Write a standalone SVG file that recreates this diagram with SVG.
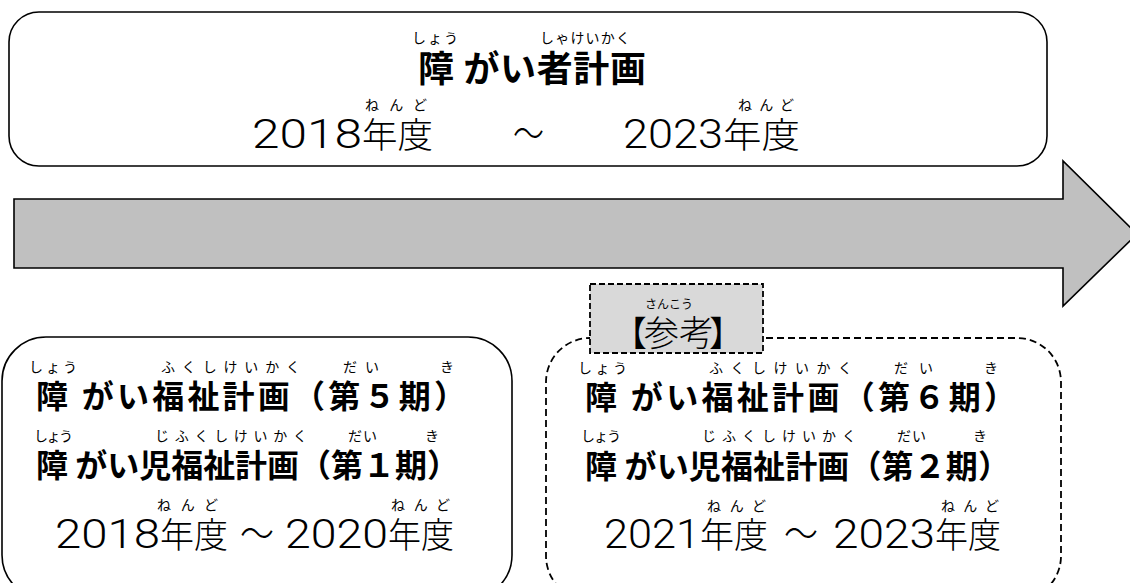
<svg xmlns="http://www.w3.org/2000/svg" width="1130" height="583" viewBox="0 0 1130 583">
<style>
.box{fill:#fff;stroke:#000;stroke-width:1.6}
.dash{fill:#fff;stroke:#000;stroke-width:1.8;stroke-dasharray:7 4}
.ref{fill:#d9d9d9;stroke:#000;stroke-width:1.8;stroke-dasharray:6 3}
.arrow{fill:#c0c0c0;stroke:#000;stroke-width:1.6;stroke-linejoin:miter}
text{font-family:"Noto Sans CJK JP",sans-serif;fill:#000}
.rb{font-size:14px}
.h{font-size:32px;font-weight:bold}
.t{font-size:36px;font-weight:bold}
.num{font-family:Roboto,"Liberation Sans","Noto Sans CJK JP",sans-serif;font-size:40px;font-weight:300}
.kj{font-size:35px;font-weight:300}
.sk{font-size:35px;font-weight:300}
</style>
<rect width="1130" height="583" fill="#fff"/>

<g id="connectors">
<polygon class="arrow" points="14,199 1063,199 1063,161 1137,234 1063,306 1063,268 14,268"/>
</g>

<g id="node-plan">
<rect class="box" x="9" y="12" width="1038" height="154" rx="30"/>
<text class="rb" x="412" y="43" textLength="46" lengthAdjust="spacing">しょう</text>
<text class="rb" x="540" y="43" textLength="90" lengthAdjust="spacing">しゃけいかく</text>
<text class="t" x="418" y="82" textLength="228" lengthAdjust="spacing">障 がい者計画</text>
<text class="rb" x="365" y="110" textLength="62" lengthAdjust="spacing">ねんど</text>
<text class="rb" x="738" y="110" textLength="56" lengthAdjust="spacing">ねんど</text>
<text class="num" x="252" y="148" textLength="110" lengthAdjust="spacingAndGlyphs">2018</text>
<text class="kj" x="362" y="148" textLength="71" lengthAdjust="spacingAndGlyphs">年度</text>
<text class="num" x="513" y="148" textLength="31" lengthAdjust="spacingAndGlyphs">～</text>
<text class="num" x="623" y="148" textLength="100" lengthAdjust="spacingAndGlyphs">2023</text>
<text class="kj" x="723" y="148" textLength="77" lengthAdjust="spacingAndGlyphs">年度</text>
</g>

<g id="node-phase5">
<rect class="box" x="2" y="337" width="510" height="262" rx="44"/>
<text class="rb" x="29" y="372" textLength="48" lengthAdjust="spacing">しょう</text>
<text class="rb" x="161" y="372" textLength="139" lengthAdjust="spacing">ふくしけいかく</text>
<text class="rb" x="343" y="372" textLength="36" lengthAdjust="spacing">だい</text>
<text class="rb" x="440" y="372">き</text>
<text class="h" x="36" y="408" textLength="430" lengthAdjust="spacing">障 がい福祉計画（第５期）</text>
<text class="rb" x="34" y="441" textLength="39" lengthAdjust="spacing">しょう</text>
<text class="rb" x="155" y="441" textLength="152" lengthAdjust="spacing">じふくしけいかく</text>
<text class="rb" x="348" y="441" textLength="29" lengthAdjust="spacing">だい</text>
<text class="rb" x="425" y="441">き</text>
<text class="h" x="36" y="477" textLength="423" lengthAdjust="spacing">障 がい児福祉計画（第１期）</text>
<text class="rb" x="157" y="510" textLength="61" lengthAdjust="spacing">ねんど</text>
<text class="rb" x="391" y="510" textLength="59" lengthAdjust="spacing">ねんど</text>
<text class="num" x="55" y="548" textLength="105" lengthAdjust="spacingAndGlyphs">2018</text>
<text class="kj" x="160" y="548" textLength="68" lengthAdjust="spacingAndGlyphs">年度</text>
<text class="num" x="240" y="548" textLength="34" lengthAdjust="spacingAndGlyphs">～</text>
<text class="num" x="285" y="548" textLength="103" lengthAdjust="spacingAndGlyphs">2020</text>
<text class="kj" x="388" y="548" textLength="66" lengthAdjust="spacingAndGlyphs">年度</text>
</g>

<g id="node-phase6">
<rect class="dash" x="546" y="338" width="515" height="262" rx="44"/>
<text class="rb" x="578" y="373" textLength="49" lengthAdjust="spacing">しょう</text>
<text class="rb" x="709" y="373" textLength="143" lengthAdjust="spacing">ふくしけいかく</text>
<text class="rb" x="894" y="373" textLength="39" lengthAdjust="spacing">だい</text>
<text class="rb" x="984" y="373">き</text>
<text class="h" x="585" y="409" textLength="431" lengthAdjust="spacing">障 がい福祉計画（第６期）</text>
<text class="rb" x="581" y="441" textLength="40" lengthAdjust="spacing">しょう</text>
<text class="rb" x="702" y="441" textLength="154" lengthAdjust="spacing">じふくしけいかく</text>
<text class="rb" x="897" y="441" textLength="29" lengthAdjust="spacing">だい</text>
<text class="rb" x="973" y="441">き</text>
<text class="h" x="585" y="478" textLength="425" lengthAdjust="spacing">障 がい児福祉計画（第２期）</text>
<text class="rb" x="707" y="511" textLength="59" lengthAdjust="spacing">ねんど</text>
<text class="rb" x="941" y="511" textLength="58" lengthAdjust="spacing">ねんど</text>
<text class="num" x="604" y="548" textLength="96" lengthAdjust="spacingAndGlyphs">2021</text>
<text class="kj" x="700" y="548" textLength="68" lengthAdjust="spacingAndGlyphs">年度</text>
<text class="num" x="784" y="548" textLength="34" lengthAdjust="spacingAndGlyphs">～</text>
<text class="num" x="833" y="548" textLength="102" lengthAdjust="spacingAndGlyphs">2023</text>
<text class="kj" x="935" y="548" textLength="66" lengthAdjust="spacingAndGlyphs">年度</text>
</g>

<g id="node-reference">
<rect class="ref" x="590" y="284" width="173" height="69"/>
<text x="645" y="309" style="font-size:12px">さんこう</text>
<text class="sk" x="612" y="346">【</text>
<text class="sk" x="644" y="346">参考</text>
<text class="sk" x="709" y="346">】</text>
</g>
</svg>
